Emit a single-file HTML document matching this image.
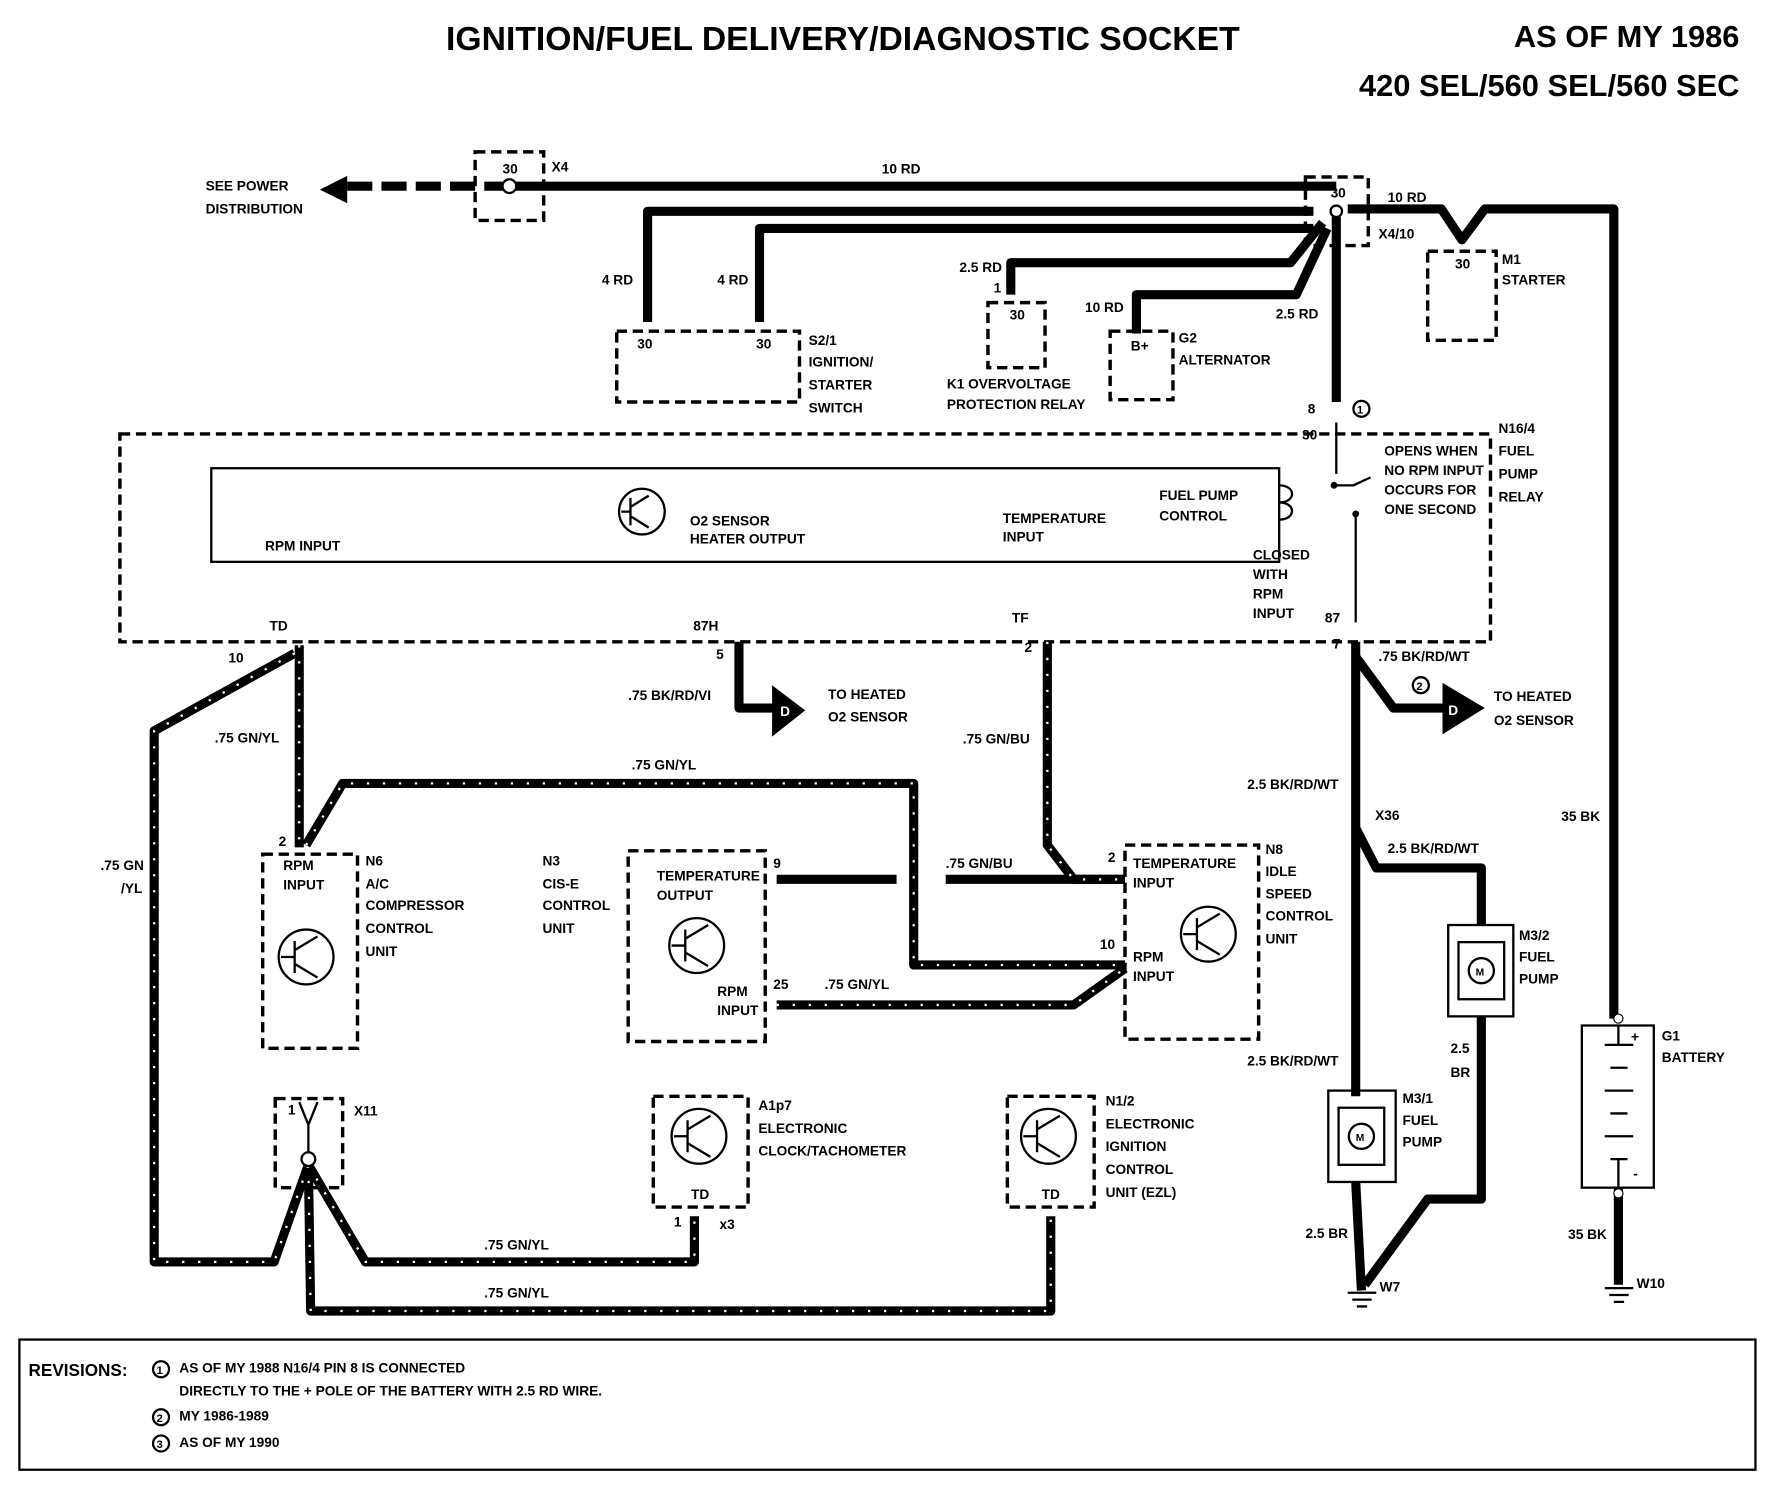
<!DOCTYPE html>
<html><head><meta charset="utf-8"><style>
html,body{margin:0;padding:0;background:#fff;}
svg{display:block;}
text{font-family:"Liberation Sans",sans-serif;font-weight:bold;fill:#000;}
.t{font-size:12px;}
.w{fill:none;stroke:#000;stroke-width:8;stroke-linejoin:round;}
.s{fill:none;stroke:#fff;stroke-width:2;stroke-dasharray:2 12;}
.d{fill:none;stroke:#000;stroke-width:3;stroke-dasharray:9 5;}
.n{fill:none;stroke:#000;stroke-width:2;}
</style></head><body>
<svg width="1792" height="1504" viewBox="0 0 1569 1317" preserveAspectRatio="none">
<text x="738" y="44" font-size="29.5" text-anchor="middle">IGNITION/FUEL DELIVERY/DIAGNOSTIC SOCKET</text>
<text x="1523" y="41" font-size="27" text-anchor="end">AS OF MY 1986</text>
<text x="1523" y="84" font-size="27" text-anchor="end">420 SEL/560 SEL/560 SEC</text>

<path class="w" d="M446 163 H1170"/>
<path class="w" d="M446 163 H300" stroke-dasharray="22 8"/>
<polygon points="280,166 304,154 304,178"/>
<text class="t" x="180" y="167">SEE POWER</text><text class="t" x="180" y="187">DISTRIBUTION</text>
<rect class="d" x="416" y="133" width="60" height="60"/>
<circle cx="446" cy="163" r="6" fill="#fff" stroke="#000" stroke-width="2"/>
<text class="t" x="440" y="152" font-size="10">30</text><text class="t" x="483" y="150">X4</text>
<text class="t" x="772" y="152">10 RD</text>
<path class="w" d="M1150 185 H567 V282"/>
<path class="w" d="M1150 200 H665 V282"/>
<path class="w" d="M1158 195 L1130 230 H885 V258"/>
<path class="w" d="M1162 200 L1135 258 H995 V292"/>
<path class="w" d="M1170 190 V352"/>
<path class="w" d="M1180 183 H1262 L1280 210 L1300 183 H1413 V892"/>
<rect class="d" x="1143" y="155" width="55" height="60"/>
<circle cx="1170" cy="185" r="5" fill="#fff" stroke="#000" stroke-width="2"/>
<text class="t" x="1165" y="173" font-size="10">30</text>
<text class="t" x="1215" y="177">10 RD</text><text class="t" x="1207" y="209">X4/10</text>
<text class="t" x="527" y="249">4 RD</text><text class="t" x="628" y="249">4 RD</text>
<text class="t" x="840" y="238">2.5 RD</text><text class="t" x="870" y="256">1</text>
<text class="t" x="950" y="273">10 RD</text><text class="t" x="1117" y="279">2.5 RD</text>
<rect class="d" x="1250" y="220" width="60" height="78"/><text class="t" x="1274" y="235" font-size="10">30</text>
<text class="t" x="1315" y="231">M1</text><text class="t" x="1315" y="249">STARTER</text>
<rect class="d" x="540" y="290" width="160" height="62"/>
<text class="t" x="558" y="305" font-size="10">30</text><text class="t" x="662" y="305" font-size="10">30</text>
<text class="t" x="708" y="302">S2/1</text><text class="t" x="708" y="321">IGNITION/</text><text class="t" x="708" y="341">STARTER</text><text class="t" x="708" y="361">SWITCH</text>
<rect class="d" x="865" y="265" width="50" height="57"/><text class="t" x="884" y="280" font-size="10">30</text>
<text class="t" x="829" y="340">K1 OVERVOLTAGE</text><text class="t" x="829" y="358">PROTECTION RELAY</text>
<rect class="d" x="972" y="290" width="55" height="60"/><text class="t" x="990" y="307" font-size="10">B+</text>
<text class="t" x="1032" y="300">G2</text><text class="t" x="1032" y="319">ALTERNATOR</text>
<text class="t" x="1145" y="362">8</text><circle cx="1192" cy="358" r="7" class="n"/><text x="1188" y="362" font-size="10">1</text>

<rect class="d" x="105" y="380" width="1200" height="182"/>
<rect x="185" y="410" width="935" height="82" class="n"/>
<text class="t" x="1140" y="385" font-size="10">30</text>
<path class="n" d="M1170 370 V415 M1168 425 H1185 L1200 418 M1187 450 V545 M1120 425 C1135 425 1135 440 1120 440 C1135 440 1135 455 1120 455"/>
<circle cx="1168" cy="425" r="3"/><circle cx="1187" cy="450" r="3"/>
<text class="t" x="1212" y="399" font-size="10">OPENS WHEN</text><text class="t" x="1212" y="416" font-size="10">NO RPM INPUT</text><text class="t" x="1212" y="433" font-size="10">OCCURS FOR</text><text class="t" x="1212" y="450" font-size="10">ONE SECOND</text>
<text class="t" x="1097" y="490" font-size="10">CLOSED</text><text class="t" x="1097" y="507" font-size="10">WITH</text><text class="t" x="1097" y="524" font-size="10">RPM</text><text class="t" x="1097" y="541" font-size="10">INPUT</text>
<text class="t" x="1312" y="379">N16/4</text><text class="t" x="1312" y="399">FUEL</text><text class="t" x="1312" y="419">PUMP</text><text class="t" x="1312" y="439">RELAY</text>
<text class="t" x="1015" y="438" font-size="10">FUEL PUMP</text><text class="t" x="1015" y="456" font-size="10">CONTROL</text>
<text class="t" x="878" y="458" font-size="10">TEMPERATURE</text><text class="t" x="878" y="474" font-size="10">INPUT</text>
<text class="t" x="604" y="460" font-size="10">O2 SENSOR</text><text class="t" x="604" y="476" font-size="10">HEATER OUTPUT</text>
<text class="t" x="232" y="482" font-size="10">RPM INPUT</text>
<g class="n"><circle cx="562" cy="448" r="20"/><path d="M552 436 V460 M544 448 H552 M552 444 L568 434 M552 452 L568 462"/></g>
<text class="t" x="236" y="552" font-size="10">TD</text><text class="t" x="607" y="552" font-size="10">87H</text><text class="t" x="886" y="545" font-size="10">TF</text><text class="t" x="1160" y="545" font-size="10">87</text>
<text class="t" x="200" y="580">10</text><text class="t" x="627" y="577">5</text><text class="t" x="897" y="571">2</text><text class="t" x="1167" y="568">7</text>

<g>
<path class="w" d="M262 565 V742"/>
<path class="w" d="M258 572 L135 640 V1105 H240 L270 1020"/>
<path class="w" d="M268 740 L300 686 H800 V845 H985"/>
<path class="w" d="M647 562 V620 H680"/>
<path class="w" d="M917 562 V740 L940 770 H985"/>
<path class="w" d="M680 770 H785 M828 770 H985"/>
<path class="w" d="M680 880 H940 L985 848"/>
<path class="w" d="M1187 562 V960"/>
<path class="w" d="M1187 575 L1220 620 H1265"/>
<path class="w" d="M1187 725 L1205 760 H1297 V810"/>
<path class="w" d="M1297 890 V1050 H1250 L1195 1125"/>
<path class="w" d="M1187 1035 L1192 1130"/>
<path class="w" d="M1417 1040 V1125"/>
<path class="w" d="M270 1020 L320 1105 H608 V1065"/>
<path class="w" d="M270 1020 L272 1148 H920 V1065"/>
</g>
<g class="s">
<path d="M262 565 V742"/><path d="M258 572 L135 640 V1105 H240 L270 1020"/>
<path d="M268 740 L300 686 H800 V845 H985"/><path d="M917 562 V740 L940 770 H985"/>
<path d="M680 880 H940 L985 848"/><path d="M270 1020 L320 1105 H608 V1065"/><path d="M270 1020 L272 1148 H920 V1065"/>
</g>
<polygon points="676,600 676,645 705,622"/><text x="683" y="627" font-size="12" style="fill:#fff">D</text>
<polygon points="1263,598 1263,643 1300,620"/><text x="1268" y="626" font-size="12" style="fill:#fff">D</text>
<text class="t" x="725" y="612">TO HEATED</text><text class="t" x="725" y="632">O2 SENSOR</text>
<text class="t" x="1308" y="614">TO HEATED</text><text class="t" x="1308" y="635">O2 SENSOR</text>
<text class="t" x="550" y="613">.75 BK/RD/VI</text>
<text class="t" x="1207" y="579">.75 BK/RD/WT</text><circle cx="1244" cy="600" r="7" class="n"/><text x="1240" y="604" font-size="10">2</text>
<text class="t" x="188" y="650">.75 GN/YL</text><text class="t" x="553" y="674">.75 GN/YL</text>
<text class="t" x="843" y="651">.75 GN/BU</text><text class="t" x="828" y="760">.75 GN/BU</text><text class="t" x="722" y="866">.75 GN/YL</text>
<text class="t" x="88" y="762">.75 GN</text><text class="t" x="106" y="782">/YL</text>
<text class="t" x="1092" y="691">2.5 BK/RD/WT</text><text class="t" x="1204" y="718">X36</text>
<text class="t" x="1215" y="747">2.5 BK/RD/WT</text><text class="t" x="1367" y="719">35 BK</text>
<text class="t" x="1092" y="933">2.5 BK/RD/WT</text><text class="t" x="1270" y="922">2.5</text><text class="t" x="1270" y="943">BR</text>
<text class="t" x="1143" y="1084">2.5 BR</text><text class="t" x="1373" y="1085">35 BK</text>
<text class="t" x="1208" y="1131">W7</text><text class="t" x="1433" y="1128">W10</text>
<path class="n" d="M1180 1132 H1205 M1184 1138 H1201 M1188 1144 H1197 M1405 1128 H1430 M1409 1134 H1426 M1413 1140 H1422"/>
<text class="t" x="424" y="1094">.75 GN/YL</text><text class="t" x="424" y="1136">.75 GN/YL</text>

<rect class="d" x="230" y="748" width="83" height="170"/>
<text class="t" x="244" y="741">2</text><text class="t" x="248" y="762" font-size="10">RPM</text><text class="t" x="248" y="779" font-size="10">INPUT</text>
<g class="n"><circle cx="268" cy="838" r="24"/><path d="M258 824 V852 M246 838 H258 M258 832 L278 820 M258 844 L278 856"/></g>
<text class="t" x="320" y="758">N6</text><text class="t" x="320" y="778">A/C</text><text class="t" x="320" y="797">COMPRESSOR</text><text class="t" x="320" y="817">CONTROL</text><text class="t" x="320" y="837">UNIT</text>
<rect class="d" x="550" y="745" width="120" height="167"/>
<text class="t" x="575" y="771" font-size="10">TEMPERATURE</text><text class="t" x="575" y="788" font-size="10">OUTPUT</text>
<g class="n"><circle cx="610" cy="828" r="24"/><path d="M600 814 V842 M588 828 H600 M600 822 L620 810 M600 834 L620 846"/></g>
<text class="t" x="628" y="872" font-size="10">RPM</text><text class="t" x="628" y="889" font-size="10">INPUT</text>
<text class="t" x="677" y="760">9</text><text class="t" x="677" y="866">25</text>
<text class="t" x="475" y="758">N3</text><text class="t" x="475" y="778">CIS-E</text><text class="t" x="475" y="797">CONTROL</text><text class="t" x="475" y="817">UNIT</text>
<rect class="d" x="985" y="740" width="117" height="170"/>
<text class="t" x="970" y="755">2</text><text class="t" x="963" y="831">10</text>
<text class="t" x="992" y="760" font-size="10">TEMPERATURE</text><text class="t" x="992" y="777" font-size="10">INPUT</text>
<text class="t" x="992" y="842" font-size="10">RPM</text><text class="t" x="992" y="859" font-size="10">INPUT</text>
<g class="n"><circle cx="1058" cy="818" r="24"/><path d="M1048 804 V832 M1036 818 H1048 M1048 812 L1068 800 M1048 824 L1068 836"/></g>
<text class="t" x="1108" y="748">N8</text><text class="t" x="1108" y="767">IDLE</text><text class="t" x="1108" y="787">SPEED</text><text class="t" x="1108" y="806">CONTROL</text><text class="t" x="1108" y="826">UNIT</text>
<rect class="n" x="1268" y="810" width="57" height="80" stroke-width="3"/>
<rect class="n" x="1277" y="825" width="40" height="50"/><circle cx="1297" cy="850" r="11" class="n"/><text x="1292" y="854" font-size="9">M</text>
<text class="t" x="1330" y="823">M3/2</text><text class="t" x="1330" y="842">FUEL</text><text class="t" x="1330" y="861">PUMP</text>
<rect class="n" x="1163" y="955" width="59" height="80" stroke-width="3"/>
<rect class="n" x="1172" y="970" width="40" height="50"/><circle cx="1192" cy="995" r="11" class="n"/><text x="1187" y="999" font-size="9">M</text>
<text class="t" x="1228" y="966">M3/1</text><text class="t" x="1228" y="985">FUEL</text><text class="t" x="1228" y="1004">PUMP</text>
<rect class="n" x="1385" y="898" width="63" height="142" stroke-width="3"/>
<path class="n" d="M1417 898 V915 M1405 915 H1430 M1410 935 H1425 M1405 955 H1430 M1410 975 H1425 M1405 995 H1430 M1410 1015 H1425 M1417 1015 V1040"/>
<text class="t" x="1428" y="912">+</text><text class="t" x="1430" y="1032">-</text>
<circle cx="1417" cy="892" r="4" fill="#fff" stroke="#000"/><circle cx="1417" cy="1045" r="4" fill="#fff" stroke="#000"/>
<text class="t" x="1455" y="911">G1</text><text class="t" x="1455" y="930">BATTERY</text>
<rect class="d" x="241" y="962" width="59" height="78"/>
<circle cx="270" cy="1015" r="6" fill="#fff" stroke="#000" stroke-width="2"/>
<path class="n" d="M270 985 V1009 M262 965 L270 985 L278 965"/><text class="t" x="252" y="976" font-size="10">1</text>
<text class="t" x="310" y="977">X11</text>
<rect class="d" x="572" y="960" width="83" height="97"/>
<g class="n"><circle cx="612" cy="995" r="24"/><path d="M602 981 V1009 M590 995 H602 M602 989 L622 977 M602 1001 L622 1013"/></g>
<text class="t" x="605" y="1050" font-size="10">TD</text><text class="t" x="590" y="1074">1</text><text class="t" x="630" y="1076" font-size="10">x3</text>
<text class="t" x="664" y="972">A1p7</text><text class="t" x="664" y="992">ELECTRONIC</text><text class="t" x="664" y="1012">CLOCK/TACHOMETER</text>
<rect class="d" x="882" y="960" width="76" height="97"/>
<g class="n"><circle cx="918" cy="995" r="24"/><path d="M908 981 V1009 M896 995 H908 M908 989 L928 977 M908 1001 L928 1013"/></g>
<text class="t" x="912" y="1050" font-size="10">TD</text>
<text class="t" x="968" y="968">N1/2</text><text class="t" x="968" y="988">ELECTRONIC</text><text class="t" x="968" y="1008">IGNITION</text><text class="t" x="968" y="1028">CONTROL</text><text class="t" x="968" y="1048">UNIT (EZL)</text>
<rect class="n" x="17" y="1173" width="1520" height="114"/>
<text x="25" y="1205" font-size="15">REVISIONS:</text>
<circle cx="141" cy="1199" r="7" class="n"/><text x="137" y="1203" font-size="10">1</text>
<text class="t" x="157" y="1202">AS OF MY 1988 N16/4 PIN 8 IS CONNECTED</text>
<text class="t" x="157" y="1222">DIRECTLY TO THE  +  POLE OF THE BATTERY WITH 2.5 RD WIRE.</text>
<circle cx="141" cy="1241" r="7" class="n"/><text x="137" y="1245" font-size="10">2</text><text class="t" x="157" y="1244">MY 1986-1989</text>
<circle cx="141" cy="1264" r="7" class="n"/><text x="137" y="1268" font-size="10">3</text><text class="t" x="157" y="1267">AS OF MY 1990</text>
</svg>
</body></html>
